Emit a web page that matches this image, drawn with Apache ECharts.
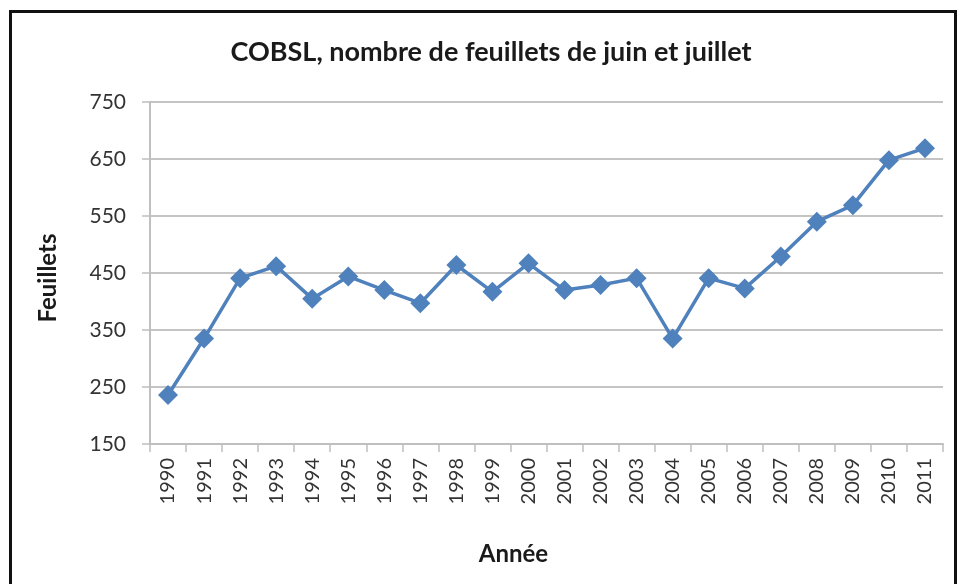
<!DOCTYPE html>
<html>
<head>
<meta charset="utf-8">
<script src="https://cdn.jsdelivr.net/npm/echarts@6/dist/echarts.min.js"></script>
<style>
  html, body { margin: 0; padding: 0; background: #fff; }
  #frame { position: absolute; left: 9px; top: 10px; width: 942px; height: 600px; border: 3px solid #111; }
  #chart { position: absolute; left: 0; top: 0; width: 960px; height: 584px; }
</style>
</head>
<body>
<div id="frame"></div>
<div id="chart"></div>
<script>
// COBSL, feuillets de juin et juillet
const years = ['1990', '1991', '1992', '1993', '1994', '1995', '1996', '1997', '1998', '1999', '2000',
  '2001', '2002', '2003', '2004', '2005', '2006', '2007', '2008', '2009', '2010', '2011']
const feuillets = [236, 335, 441, 462, 405, 444, 420, 397, 464, 417, 467,
  420, 429, 441, 335, 441, 423, 479, 540, 569, 648, 669]

let chart = echarts.init(document.getElementById('chart'))
let labelFont = 'Lato, "Open Sans", sans-serif'
let options = {
  animation: false,
  title: {
    text: 'COBSL, nombre de feuillets de juin et juillet',
    left: 486,
    textAlign: 'center',
    top: 34,
    textStyle: { fontFamily: labelFont, fontSize: 27, fontWeight: 'bold', color: '#1a1a1a' }
  },
  grid: { left: 150, right: 17, top: 102, bottom: 140 },
  xAxis: {
    type: 'category',
    data: years,
    name: 'Année',
    nameLocation: 'middle',
    nameGap: 98,
    nameTextStyle: { fontFamily: labelFont, fontSize: 24, fontWeight: 'bold', color: '#1a1a1a', padding: [0, 66, 0, 0] },
    axisLine: { lineStyle: { color: '#bfbfbf', width: 2 } },
    axisTick: { show: true, length: 8, lineStyle: { color: '#bfbfbf', width: 1.5 } },
    axisLabel: { rotate: 90, fontFamily: labelFont, fontSize: 20, color: '#333', margin: 14, interval: 0 }
  },
  yAxis: {
    type: 'value',
    min: 150,
    max: 750,
    interval: 100,
    name: 'Feuillets',
    nameLocation: 'middle',
    nameGap: 90,
    nameTextStyle: { fontFamily: labelFont, fontSize: 24, fontWeight: 'bold', color: '#1a1a1a', padding: [0, 10, 0, 0] },
    axisLine: { show: true, lineStyle: { color: '#bfbfbf', width: 2 } },
    axisTick: { show: true, length: 8, lineStyle: { color: '#bfbfbf', width: 1.5 } },
    axisLabel: { fontFamily: labelFont, fontSize: 21, color: '#333', margin: 24 },
    splitLine: { lineStyle: { color: '#c4c4c4', width: 2 } }
  },
  series: [
    {
      name: 'Feuillets',
      type: 'line',
      data: feuillets,
      symbol: 'diamond',
      symbolSize: 20,
      lineStyle: { color: '#4f81bd', width: 3.5 },
      itemStyle: { color: '#4f81bd' }
    }
  ]
}
chart.setOption(options)
</script>
</body>
</html>
